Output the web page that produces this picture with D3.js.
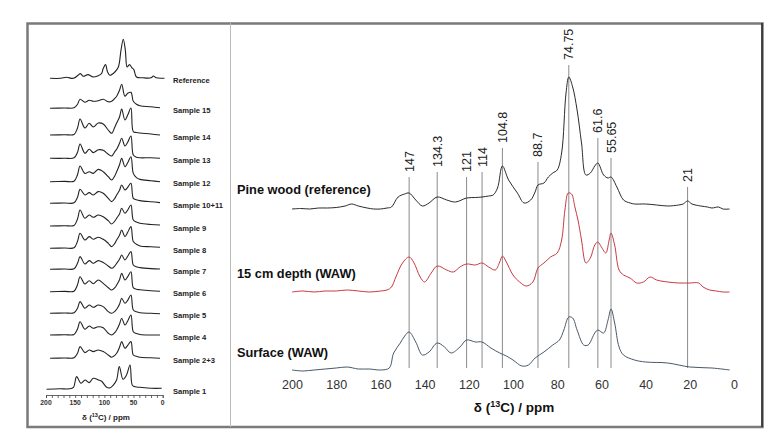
<!DOCTYPE html>
<html><head><meta charset="utf-8">
<script src="https://cdn.jsdelivr.net/npm/d3@7"></script>
<style>body{margin:0;background:#fff}svg{display:block}text{font-family:"Liberation Sans",Arial,sans-serif}</style>
</head><body><svg id="c" width="778" height="441"></svg>
<script>
// ---------- right panel data ----------
const pinePpm = [200,196,192,188,184,180,176,173,170,166,163,160,157,155,152,149,147,144,141,138,134.3,130,126,121,117,114,111,109,107,104.8,102,98,95,92,90,88.7,86,84,82,80,78,76,74.75,73,71,69,67,65,63,61.6,59,57,55.65,53,50,47,45,40,35,30,25,23,21,19,15,12,10,7,5,2];
const pineInt = [0,0.5,0,1,1,1.5,3,5,3,1,0,0,1,2,12,15,16,9,3,6,12,9,7,11,11.5,12,13,14,21,43,29,16,6,9,17,24,26,32,36,39,56,116,132,122,99,66,34,36,43,46,34,31,32,22,9,6,5,5,4,3,4,5,8,5,3,2,1,2,0,0];
const redPpm = [200,195,190,185,180,175,170,165,160,157,155,153,150,147,145,142,140,137,134.3,130,127,124,121,117,114,111,108,106,104.8,103,100,97,94,91,88.7,86,83,80,78,76.5,75,73.5,72,70.6,69,67,65,63,61.6,60,58,56.5,55.65,54,52,50,47,44,41,38,35,30,25,20,16,14,11,8,5,2];
const redInt = [0,1,0,1,1,2,1,0,1,2,5,15,29,35,30,15,10,19,26,22,20,25,28,27,29,25,22,30,36,30,17,10,6,10,24,29,35,39,52,82,99,98,85,72,52,29,34,47,50,45,39,52,59,47,22,17,14,9,10,15,12,10,9,9,9,5,2,1,0,0];
const surfPpm = [200,195,190,185,180,175,170,165,160,156,154,151,149,147,144,141,138,134.3,131,128,124,121,117,114,110,106,103,100,96,93,90,86,82,79,77,74.75,73,71,68,66,63,61.6,59,57,55.65,54,52,50,45,40,30,20,10,2];
const surfInt = [0,-1,0,1,2,3,1,1,0,2,17,27,34,38,28,15,18,27,23,17,23,30,28,28,22,17,14,10,4,5,12,18,25,30,40,53,52,40,25,25,37,40,37,50,61,47,23,15,10,8,7,3,2,0];
const seriesNames = ["Pine wood (reference)","15 cm depth (WAW)","Surface (WAW)"];
const seriesOffsets = [161, 78, 0];
const seriesColors = ["#2b2b2b","#c83a44","#4a5868"];
const peakPpm = [147,134.3,121,114,104.8,88.7,74.75,61.6,55.65,21];
const peakLabels = ["147","134.3","121","114","104.8","88.7","74.75","61.6","55.65","21"];
const xTicks = [200,180,160,140,120,100,80,60,40,20,0];

// ---------- left panel data ----------
const leftNames = ["Reference","Sample 15","Sample 14","Sample 13","Sample 12","Sample 10+11","Sample 9","Sample 8","Sample 7","Sample 6","Sample 5","Sample 4","Sample 2+3","Sample 1"];
const leftOffsets = [321.7,291.7,265,241.7,218.3,196.7,174,151.7,130.7,108.3,86.7,65,41.7,10.7];
const refPpm = [193,175,165,153,145,141,136,128,119,105,102,98,94.5,90.5,82,76,71.5,67.6,64,61,57,53,49.5,45,34,20,16,11,1,-3];
const refInt = [0,0,1,0,3,4.7,2,3.7,1.3,4.7,9.7,13.7,6.3,3,6.3,11.3,28,39,28,11.3,13.7,10.7,8.7,1.3,0.5,0.5,2.3,0.5,0,0];
const samplePpm = [193,168,152,146,141.6,133.3,125.9,119,110.5,101.9,93.3,87.5,82,78.9,74,70.3,64.7,60,54.4,50.4,45,38.9,20,4.6];
const s15 = [0,0.3,0.5,4,9,6,8,7,7.5,9,6.5,7,10,12,18,24,12,15,16,7,4,2.5,1.5,0.5];
const s14 = [0,0.3,0.5,7,16,7,11.7,8,12,11,5,1.7,8,12,18,26,15,20,27,3.3,2.5,2,1,0];
const s13 = [0,0,0.5,6,14.3,5,9,5.7,8.5,8,4,2.3,6.7,9,15,20,12.3,16,22.3,3.3,1,0.5,0.5,0];
const s12 = [0,0.3,0.5,7,15.7,8.3,10,8.3,12.3,10,5,1.7,6,10,17,23.3,15,19,25,8.3,4,2.3,1,0];
const s1011 = [0,0.3,0.5,6,14,8.3,10.7,8.3,11.7,10,5,1.7,5,8.3,13,18.3,13.3,16,20,5,3.5,2.7,1.5,0.7];
const s9 = [0,0.3,0.5,7,16,7.7,11,8.7,11,9.3,5.3,2,5,7.7,12,17.7,12.7,16,21,6,4,2.7,1.5,1];
const s8 = [0,0.3,0.5,7,15,8.3,11.7,9,11,9,5,1.7,5,8.3,13,18.3,11.7,16,21.7,6.7,4,2.3,1.5,1];
const s7 = [0,0.3,0.5,6,12.7,5.3,8.7,6,8.7,6.7,3.3,1,3.5,6,10,14.3,9.3,13,17.7,4.3,2.5,1.7,0.7,0.3];
const s6 = [0,0.3,0.5,7,15,7.7,11,8,11.7,8.3,4,1.7,4,6.7,12,18.3,11.7,15,20,4,2.5,2,1,0.5];
const s5 = [0,0.3,0.5,5,11.7,5,8.3,6,8.3,6.7,1.7,0,2,4,9,15,10,13,18.3,3.3,1.5,0.5,0,-0.5];
const s4 = [0,0.3,0.5,6,13.3,5.7,9,6.7,8.3,7.3,1.7,0,2.5,5,11,16.7,10,14,20,3.3,1.5,0.5,0,0];
const s23 = [0,0.3,0.5,5,11.7,5.7,8.3,6.7,8.3,6.7,3.3,1,3,5,11,16.7,10,13,16.7,3.3,2,1,0.5,0];
const s1Ppm = [199,176,160,153,147.5,140,133,126,119,110,104.6,96,90,85,79,74.4,68,62,56,52,47,39,20,1.7];
const s1 = [0,0.5,0.5,2,12.7,6,9.3,6.7,11,9.3,8,2,1.5,4,9.3,22.7,10,14.3,24.3,4,2.5,2,1,1];
const leftTicks = [200,150,100,50,0];

// ---------- drawing ----------
const svg = d3.select("#c");
// frame
svg.append("rect").attr("x",27.5).attr("y",23.5).attr("width",735).attr("height",403.5)
  .attr("fill","none").attr("stroke","#7a7a7a").attr("stroke-width",2.5);
svg.append("line").attr("x1",762).attr("x2",762).attr("y1",23).attr("y2",427).attr("stroke","#111").attr("stroke-width",1.2);
svg.append("line").attr("x1",230.5).attr("x2",230.5).attr("y1",23).attr("y2",427).attr("stroke","#bbb").attr("stroke-width",1);

// right panel
const xR = d3.scaleLinear().domain([200,0]).range([292,734]);
const yR = d3.scaleLinear().domain([0,300]).range([370,70]);
const rightData = [[pinePpm,pineInt],[redPpm,redInt],[surfPpm,surfInt]];
const lineTop = [177,172,177,172,148,162,65,138,158,187];
const gR = svg.append("g");
gR.selectAll("line.peak").data(peakPpm).join("line").attr("class","peak")
  .attr("x1",d=>xR(d)).attr("x2",d=>xR(d))
  .attr("y1",(d,i)=>lineTop[i]).attr("y2",368)
  .attr("stroke","#8a8a8a").attr("stroke-width",1);
gR.selectAll("text.peak").data(peakLabels).join("text").attr("class","peak")
  .attr("transform",(d,i)=>`translate(${xR(peakPpm[i])+4.5},${lineTop[i]-5}) rotate(-90)`)
  .attr("font-size",12.5).attr("fill","#222").text(d=>d);
rightData.forEach((s,k)=>{
  const pts = s[0].map((p,i)=>[p,s[1][i]+seriesOffsets[k]]);
  gR.append("path").datum(pts)
    .attr("d",d3.line().x(d=>xR(d[0])).y(d=>yR(d[1])).curve(d3.curveCatmullRom.alpha(0.5)))
    .attr("fill","none").attr("stroke",seriesColors[k]).attr("stroke-width",1);
});
const labY = [194,278,357];
gR.selectAll("text.sname").data(seriesNames).join("text").attr("class","sname")
  .attr("x",237).attr("y",(d,i)=>labY[i]).attr("font-size",12.8).attr("font-weight","bold")
  .attr("fill","#111").text(d=>d);
const axR = gR.append("g").attr("transform","translate(0,380)")
  .call(d3.axisBottom(xR).tickValues(xTicks).tickSize(0).tickPadding(0));
axR.select(".domain").remove();
axR.selectAll("text").attr("font-size",12.5).attr("fill","#333").attr("font-family","'Liberation Sans',Arial,sans-serif").attr("dy","0.71em");
const tR = gR.append("text").attr("x",514).attr("y",412).attr("text-anchor","middle")
  .attr("font-size",13.5).attr("font-weight","bold").attr("fill","#111");
tR.append("tspan").text("δ (");
tR.append("tspan").attr("font-size",9).attr("dy",-5).text("13");
tR.append("tspan").attr("dy",5).text("C) / ppm");

// left panel
const xL = d3.scaleLinear().domain([200,0]).range([46,162.7]);
const yL = d3.scaleLinear().domain([0,330]).range([400,70]);
const leftSeries = [[refPpm,refInt],[samplePpm,s15],[samplePpm,s14],[samplePpm,s13],[samplePpm,s12],[samplePpm,s1011],[samplePpm,s9],[samplePpm,s8],[samplePpm,s7],[samplePpm,s6],[samplePpm,s5],[samplePpm,s4],[samplePpm,s23],[s1Ppm,s1]];
const gL = svg.append("g");
leftSeries.forEach((s,k)=>{
  const pts = s[0].map((p,i)=>[p,s[1][i]+leftOffsets[k]]);
  gL.append("path").datum(pts)
    .attr("d",d3.line().x(d=>xL(d[0])).y(d=>yL(d[1])).curve(d3.curveCatmullRom.alpha(0.5)))
    .attr("fill","none").attr("stroke","#222").attr("stroke-width",1.1);
});
gL.selectAll("text.lname").data(leftNames).join("text").attr("class","lname")
  .attr("x",173).attr("y",(d,i)=>yL(leftOffsets[i])+4.5)
  .attr("font-size",7.6).attr("font-weight","bold").attr("fill","#222").text(d=>d);
const axL = gL.append("g").attr("transform","translate(0,395)")
  .call(d3.axisBottom(xL).ticks(20).tickSize(3).tickFormat(""));
axL.select(".domain").attr("stroke","#444").attr("stroke-width",0.8);
axL.selectAll(".tick line").attr("stroke","#444").attr("stroke-width",0.8);
gL.selectAll("text.ltick").data(leftTicks).join("text").attr("class","ltick")
  .attr("x",d=>xL(d)).attr("y",404.5).attr("text-anchor","middle")
  .attr("font-size",6.8).attr("font-weight","bold").attr("fill","#333").text(d=>d);
const tL = gL.append("text").attr("x",106).attr("y",420).attr("text-anchor","middle")
  .attr("font-size",8).attr("font-weight","bold").attr("fill","#222");
tL.append("tspan").text("δ (");
tL.append("tspan").attr("font-size",5.5).attr("dy",-3).text("13");
tL.append("tspan").attr("dy",3).text("C) / ppm");
</script></body></html>
